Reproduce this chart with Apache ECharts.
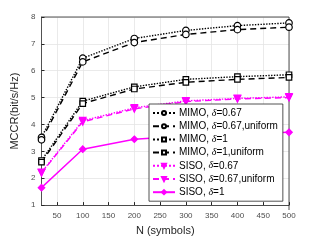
<!DOCTYPE html>
<html><head><meta charset="utf-8">
<script src="https://cdn.jsdelivr.net/npm/echarts@6/dist/echarts.min.js"></script>
<style>html,body{margin:0;padding:0;background:#fff}#c{width:321px;height:241px}</style>
</head><body><div id="c"></div>
<script>
const nValues = [20, 100, 200, 300, 400, 500];
const mimo067 = [3.52, 6.47, 7.20, 7.50, 7.68, 7.78];
const mimo067u = [3.43, 6.33, 7.05, 7.35, 7.53, 7.62];
const mimo1 = [2.66, 4.87, 5.40, 5.68, 5.78, 5.85];
const mimo1u = [2.60, 4.78, 5.32, 5.57, 5.68, 5.75];
const siso067 = [2.22, 4.14, 4.62, 4.88, 4.97, 5.03];
const siso067u = [2.20, 4.10, 4.58, 4.85, 4.95, 5.00];
const siso1 = [1.65, 3.08, 3.45, 3.57, 3.65, 3.71];
const xTicks = [50, 100, 150, 200, 250, 300, 350, 400, 450, 500];
const yTicks = [1, 2, 3, 4, 5, 6, 7, 8];
const seriesNames = ['MIMO, δ=0.67', 'MIMO, δ=0.67,uniform', 'MIMO, δ=1', 'MIMO, δ=1,uniform', 'SISO, δ=0.67', 'SISO, δ=0.67,uniform', 'SISO, δ=1'];

const pairs = a => nValues.map((n, i) => [n, a[i]]);
const black = '#000000', mag = '#ff00ff';
function mk(name, data, color, ltype, symbol, fill) {
  return {
    name, type: 'line', data: pairs(data), symbol, symbolSize: symbol === 'rect' ? 5.5 : 6.5,
    showAllSymbol: true,
    lineStyle: {color, width: 1.4, type: ltype},
    itemStyle: {color: fill, borderColor: color, borderWidth: 1.2},
    emphasis: {disabled: true}, animation: false
  };
}
const tri = 'path://M0,0 L10,0 L5,9 Z';
const chart = echarts.init(document.getElementById('c'), null, {renderer: 'canvas'});
const lab = {fontFamily: 'Liberation Sans', fontSize: 8, color: '#4d4d4d'};
chart.setOption({
  animation: false,
  grid: {left: 41.5, right: 32, top: 17, bottom: 31, show: false},
  xAxis: {
    type: 'value', min: 20, max: 500,
    name: 'N (symbols)', nameLocation: 'middle', nameGap: 18,
    nameTextStyle: {fontFamily: 'Liberation Sans', fontSize: 11, color: '#262626'},
    axisLine: {show: true, onZero: false, lineStyle: {color: '#262626', width: 0.8}},
    axisTick: {show: true, inside: true, length: 3, customValues: xTicks, lineStyle: {color: '#262626'}},
    axisLabel: {customValues: xTicks, margin: 7, ...lab},
    splitLine: {show: true, lineStyle: {color: '#e5e5e5', width: 0.8}}
  },
  yAxis: {
    type: 'value', min: 1, max: 8, interval: 1,
    name: 'MCCR(bit/s/Hz)', nameLocation: 'middle', nameGap: 17,
    nameTextStyle: {fontFamily: 'Liberation Sans', fontSize: 11, color: '#262626'},
    axisLine: {show: true, lineStyle: {color: '#262626', width: 0.8}},
    axisTick: {show: true, inside: true, length: 3, lineStyle: {color: '#262626'}},
    axisLabel: {margin: 6, ...lab},
    splitLine: {show: true, lineStyle: {color: '#e5e5e5', width: 0.8}}
  },
  legend: {
    left: 149, top: 104, width: 135, orient: 'vertical',
    backgroundColor: '#ffffff', borderColor: '#262626', borderWidth: 0.8,
    padding: [4, 5, 4, 3], itemGap: 3.2, itemWidth: 22, itemHeight: 5,
    data: seriesNames,
    formatter: n => {
      const m = n.match(/^(.*?)δ(.*)$/);
      return '{n|' + m[1] + '}{d|δ}{n|' + m[2] + '}';
    },
    textStyle: {
      fontFamily: 'Liberation Sans', fontSize: 10, color: '#000', padding: [0, 0, 0, -1],
      rich: {n: {fontFamily: 'Liberation Sans', fontSize: 10, color: '#000', height: 12},
             d: {fontFamily: 'Liberation Serif', fontStyle: 'italic', fontSize: 10, color: '#000', height: 12}}
    }
  },
  series: [
    mk(seriesNames[0], mimo067, black, 'dotted', 'circle', '#ffffff'),
    mk(seriesNames[1], mimo067u, black, [6, 4], 'circle', '#ffffff'),
    mk(seriesNames[2], mimo1, black, 'dotted', 'rect', '#ffffff'),
    mk(seriesNames[3], mimo1u, black, [6, 4], 'rect', '#ffffff'),
    mk(seriesNames[4], siso067, mag, 'dotted', tri, mag),
    mk(seriesNames[5], siso067u, mag, [6, 4], tri, mag),
    mk(seriesNames[6], siso1, mag, 'solid', 'diamond', mag)
  ],
  graphic: [
    {type: 'line', shape: {x1: 41.5, y1: 17, x2: 289, y2: 17}, style: {stroke: '#262626', lineWidth: 0.8}, z: 1},
    {type: 'line', shape: {x1: 289, y1: 17, x2: 289, y2: 210}, style: {stroke: '#262626', lineWidth: 0.8}, z: 1}
  ]
});
</script></body></html>
